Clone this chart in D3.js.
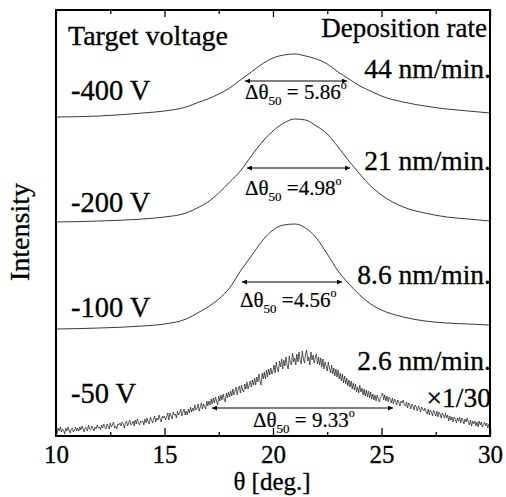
<!DOCTYPE html>
<html>
<head>
<meta charset="utf-8">
<script src="https://cdn.jsdelivr.net/npm/d3@7"></script>
<style>
  body { margin: 0; background: #fff; }
</style>
</head>
<body>
<div id="visualization"></div>
<script>
// theta grid (deg) for the smooth scans
var theta = [10, 12, 14, 15, 16, 16.6, 17, 17.5, 18, 18.5, 19, 19.5, 20, 20.5, 21,
             21.5, 22, 22.5, 23, 23.5, 24, 24.5, 25, 26, 27, 28, 29, 30];

// intensities (arb. units, stacked offsets included)
var v400 = [319, 320, 323, 325, 329, 334, 337, 342, 348, 356, 364, 372, 378, 381, 382,
            380, 377, 372, 364, 357, 350, 345, 340, 334, 330, 327, 325, 323];
var v200 = [214, 215, 217, 219, 223, 229, 234, 243, 254, 265, 280, 294, 305, 313, 317,
            316, 310, 302, 289, 275, 262, 250, 241, 229, 223, 219, 217, 215];
var v100 = [107, 108, 110, 112, 117, 124, 129, 137, 148, 165, 180, 195, 206, 211, 212,
            208, 198, 182, 165, 152, 141, 132, 126, 119, 115, 113, 112, 111];

// -50 V scan (x1/30), 0.05 deg step from 10 to 30 (one row per degree)
var v50 = [
  6,3,8,5,9,4,7,6,2,8,5,9,6,3,7,8,4,6,9,5,
  8,5,9,6,10,7,4,9,8,5,11,7,6,10,8,5,9,7,11,8,
  9,6,11,8,12,9,7,12,10,7,13,9,11,14,8,10,7,12,11,13,
  10,14,12,8,13,15,10,13,16,11,12,15,10,16,12,17,13,11,15,14,
  15,11,17,13,18,14,12,19,16,13,17,20,14,18,16,21,17,14,20,18,
  20,16,19,23,16,23,20,17,24,21,22,18,25,21,23,27,20,24,27,21,
  25,21,27,23,29,24,28,25,31,26,28,32,25,29,33,27,32,29,27,35,
  30,35,31,37,32,38,33,39,35,31,40,35,41,36,42,37,34,43,38,44,
  39,45,40,47,41,45,49,41,47,50,43,51,46,44,52,47,54,47,51,55,
  49,56,51,58,51,59,54,62,55,51,63,57,64,57,66,59,67,61,68,62,
  65,71,63,74,67,64,75,69,77,67,76,70,79,71,67,80,73,71,83,74,
  78,71,82,74,84,76,72,85,77,73,82,86,75,79,71,84,76,81,73,79,
  82,72,79,71,78,69,77,67,74,70,65,74,68,63,71,62,68,60,67,59,
  66,57,63,55,62,53,60,52,58,50,56,49,55,47,53,46,52,44,49,43,
  51,44,48,41,47,40,46,39,45,38,44,37,42,36,41,35,41,37,34,39,
  40,43,36,41,35,40,34,39,37,33,38,32,37,35,31,36,34,30,35,33,
  36,31,30,34,28,33,31,27,32,30,26,31,29,25,30,28,24,29,27,25,
  28,24,22,27,21,26,24,20,26,23,20,25,19,24,22,18,23,21,18,23,
  18,21,15,20,16,19,14,19,17,13,18,15,19,13,18,16,12,17,14,18,
  14,11,16,10,15,12,15,10,14,9,15,11,14,9,12,14,10,13,8,12,
  12];

var voltages = ["-400 V", "-200 V", "-100 V", "-50 V"];
var rates = ["44 nm/min.", "21 nm/min.", "8.6 nm/min.", "2.6 nm/min."];
var fwhm = [" = 5.86", " =4.98", " =4.56", " = 9.33"];
// FWHM arrows: [theta start, theta end, intensity level]
var arrows = [[18.71, 23.41, 355], [18.80, 23.55, 268], [18.57, 23.18, 154], [17.19, 25.53, 28]];
var majorTicks = [10, 15, 20, 25, 30];
var minorTicks = [12.5, 17.5, 22.5, 27.5];

render();

function render() {
  var div = d3.select('#visualization');
  var W = 506, H = 497;
  var left = 56, right = 490, top = 10, bottom = 436;
  var serif = "'Liberation Serif', 'Times New Roman', 'DejaVu Serif', serif";

  var x = d3.scaleLinear().domain([10, 30]).range([left, right]);
  var y = d3.scaleLinear().domain([0, 426]).range([bottom, top]);

  var svg = div.append("svg").attr("width", W).attr("height", H)
               .style("font-family", serif);

  svg.append("defs").append("clipPath").attr("id", "clip")
     .append("rect").attr("x", left).attr("y", top)
     .attr("width", right - left).attr("height", bottom - top);

  var mk = svg.select("defs").append("marker")
     .attr("id", "ah").attr("viewBox", "0 0 10 10")
     .attr("refX", 10).attr("refY", 5)
     .attr("markerWidth", 7).attr("markerHeight", 5)
     .attr("markerUnits", "userSpaceOnUse")
     .attr("orient", "auto-start-reverse");
  mk.append("path").attr("d", "M0,0 L10,5 L0,10 Z").attr("fill", "#000");

  var smooth = d3.line().x(d => x(d[0])).y(d => y(d[1])).curve(d3.curveMonotoneX);
  var raw = d3.line().x(d => x(d[0])).y(d => y(d[1]));
  var curves = [v400, v200, v100].map(v => theta.map((t, i) => [t, v[i]]));
  var noisy = v50.map((v, i) => [10 + i * 0.05, v]);

  var plot = svg.append("g").attr("clip-path", "url(#clip)");
  plot.selectAll("path.sm").data(curves).enter().append("path")
     .attr("class", "sm")
     .attr("d", smooth)
     .attr("fill", "none").attr("stroke", "#222").attr("stroke-width", 0.9);
  plot.append("path").datum(noisy)
     .attr("d", raw)
     .attr("fill", "none").attr("stroke", "#1a1a1a").attr("stroke-width", 0.7);

  // FWHM arrows
  svg.selectAll(".arr").data(arrows).enter().append("line")
     .attr("class", "arr")
     .attr("x1", d => x(d[0])).attr("x2", d => x(d[1]))
     .attr("y1", d => y(d[2])).attr("y2", d => y(d[2]))
     .attr("stroke", "#000").attr("stroke-width", 1)
     .attr("marker-start", "url(#ah)").attr("marker-end", "url(#ah)");

  // axes (ticks pointing inward)
  svg.append("g").attr("transform", "translate(0," + bottom + ")")
     .call(d3.axisBottom(x).tickValues(majorTicks).tickSizeInner(-8).tickSizeOuter(0).tickFormat(""));
  svg.append("g").attr("transform", "translate(0," + bottom + ")")
     .call(d3.axisBottom(x).tickValues(minorTicks).tickSizeInner(-4).tickSizeOuter(0).tickFormat(""));
  svg.append("g").attr("transform", "translate(0," + top + ")")
     .call(d3.axisTop(x).tickValues(majorTicks).tickSizeInner(-7).tickSizeOuter(0).tickFormat(""));
  svg.append("g").attr("transform", "translate(0," + top + ")")
     .call(d3.axisTop(x).tickValues(minorTicks).tickSizeInner(-4).tickSizeOuter(0).tickFormat(""));
  svg.selectAll(".domain").remove();
  svg.selectAll(".tick line").attr("stroke", "#000").attr("stroke-width", 1.3);

  var lab = svg.append("g").attr("transform", "translate(0," + bottom + ")")
     .call(d3.axisBottom(x).tickValues(majorTicks).tickSize(0).tickPadding(9));
  lab.attr("font-family", null).attr("font-size", null);
  lab.select(".domain").remove();
  lab.selectAll("text").style("font-family", serif).style("font-size", "25px")
     .attr("stroke", "#000").attr("stroke-width", 0.3);

  // frame
  svg.append("rect").attr("x", left).attr("y", top)
     .attr("width", right - left).attr("height", bottom - top)
     .attr("fill", "none").attr("stroke", "#000").attr("stroke-width", 2);

  function txt(xp, yp, s, size, anchor) {
    return svg.append("text").attr("x", xp).attr("y", yp)
       .attr("text-anchor", anchor || "start")
       .attr("stroke", "#000").attr("stroke-width", 0.3)
       .style("font-family", serif).style("font-size", size + "px").text(s);
  }

  // axis titles
  txt(272, 490, "θ [deg.]", 25, "middle");
  svg.append("text").attr("transform", "translate(29,232) rotate(-90)")
     .attr("text-anchor", "middle").attr("stroke", "#000").attr("stroke-width", 0.3)
     .style("font-family", serif).style("font-size", "28px").text("Intensity");

  // headers
  txt(68, 45, "Target voltage", 28);
  txt(487, 37, "Deposition rate", 27, "end");

  var vy = [100, 212, 317, 403];
  voltages.forEach((v, i) => txt(71, vy[i], v, 28.5));

  var ry = [78, 170, 284, 370];
  rates.forEach((r, i) => txt(491, ry[i], r, 27.5, "end"));

  txt(491, 407, "×1/30", 27.5, "end");

  // FWHM labels
  var fx = [245, 245, 240, 253], fy = [99, 195, 307, 427];
  fwhm.forEach(function(f, i) {
    var t = txt(fx[i], fy[i], null, 21).attr("stroke-width", 0.2);
    t.append("tspan").text("Δθ");
    t.append("tspan").style("font-size", "13px").attr("dy", 6).text("50");
    t.append("tspan").attr("dy", -6).text(f);
    t.append("tspan").style("font-size", "12px").attr("dy", -10).text("o");
  });
}
</script>
</body>
</html>
